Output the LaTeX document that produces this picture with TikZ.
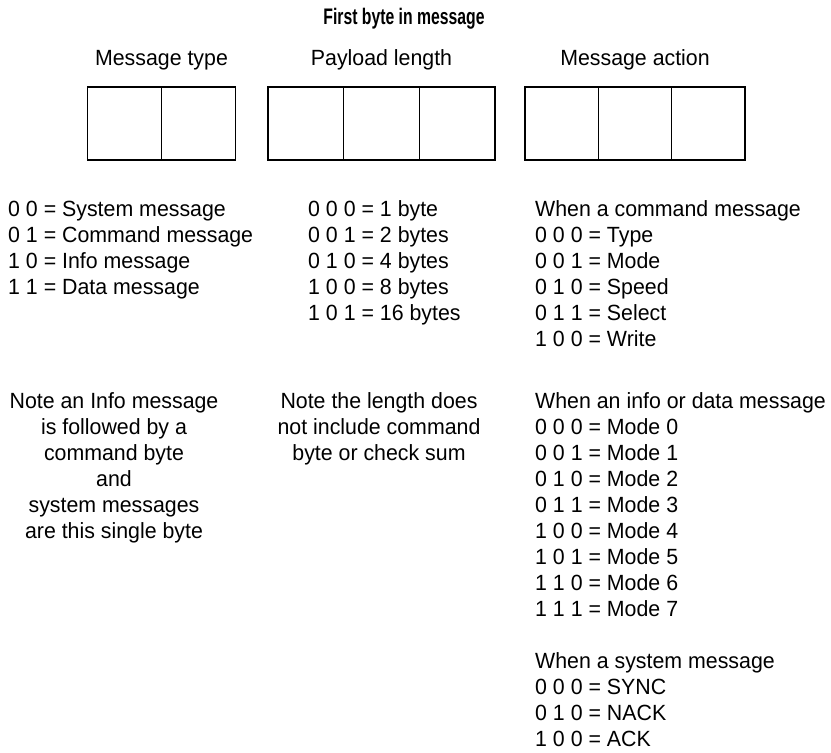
\documentclass[tikz,border=0pt]{standalone}
\usepackage{fontspec}
\setmainfont{Liberation Sans}[FakeStretch=0.97]
\newfontfamily\titlefont{Liberation Sans}[FakeStretch=0.7]
\usepackage{tikz}
\usetikzlibrary{positioning}

\begin{document}
\begin{tikzpicture}[x=1pt,y=-1pt,
  every node/.style={inner sep=0pt, font=\fontsize{22}{26}\selectfont},
  cell/.style={draw, line width=1.5pt, minimum height=73pt, minimum width=74pt}]
\useasboundingbox (0,0) rectangle (831,753);
\node at (404,24) (title)[anchor=base]{\titlefont\fontsize{22.5}{24}\selectfont\bfseries First byte in message};

\node at (161.5,65) (type)[anchor=base]{Message type};
\node at (381.5,65) (length)[anchor=base]{Payload length};
\node at (635,65) (action)[anchor=base]{Message action};

\node at (124.5,123.5) (t1)[cell]{};
\node at (198.5,123.5) (t2)[cell]{};
\node at (305.8,123.5) (l1)[cell, minimum width=75.7pt]{};
\node at (381.5,123.5) (l2)[cell, minimum width=75.7pt]{};
\node at (457.2,123.5) (l3)[cell, minimum width=75.7pt]{};
\node at (561.7,123.5) (a1)[cell, minimum width=73.3pt]{};
\node at (635,123.5) (a2)[cell, minimum width=73.3pt]{};
\node at (708.3,123.5) (a3)[cell, minimum width=73.3pt]{};

% base anchor sits on the last line of each block
\node at (8,294) (types)[anchor=base west, align=left]{0 0 = System message\\0 1 = Command message\\1 0 = Info message\\1 1 = Data message};
\node at (308,320) (sizes)[anchor=base west, align=left]{0 0 0 = 1 byte\\0 0 1 = 2 bytes\\0 1 0 = 4 bytes\\1 0 0 = 8 bytes\\1 0 1 = 16 bytes};
\node at (535,346) (command)[anchor=base west, align=left]{When a command message\\0 0 0 = Type\\0 0 1 = Mode\\0 1 0 = Speed\\0 1 1 = Select\\1 0 0 = Write};

\node at (114,538) (infonote)[anchor=base, align=center]{Note an Info message\\is followed by a\\command byte\\and\\system messages\\are this single byte};
\node at (379,460) (lengthnote)[anchor=base, align=center]{Note the length does\\not include command\\byte or check sum};
\node at (535,616) (modes)[anchor=base west, align=left]{When an info or data message\\0 0 0 = Mode 0\\0 0 1 = Mode 1\\0 1 0 = Mode 2\\0 1 1 = Mode 3\\1 0 0 = Mode 4\\1 0 1 = Mode 5\\1 1 0 = Mode 6\\1 1 1 = Mode 7};
\node at (535,746) (system)[anchor=base west, align=left]{When a system message\\0 0 0 = SYNC\\0 1 0 = NACK\\1 0 0 = ACK};
\end{tikzpicture}
\end{document}
